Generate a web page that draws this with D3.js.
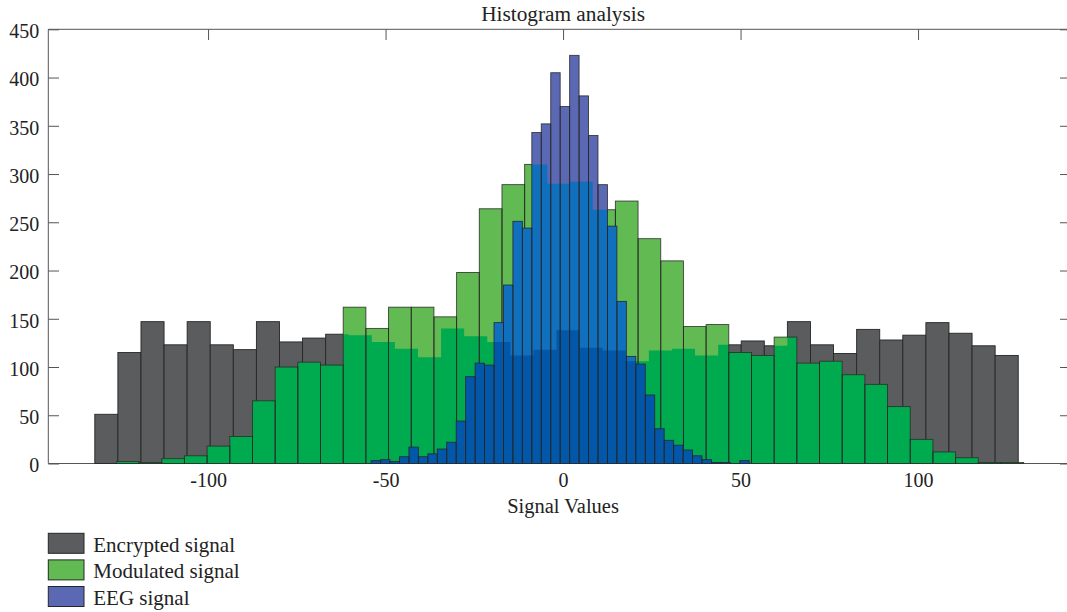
<!DOCTYPE html>
<html><head><meta charset="utf-8">
<script src="https://cdn.jsdelivr.net/npm/d3@7"></script>
<style>
body{margin:0;background:#fff}
svg{display:block}
text{font-family:"Liberation Serif","DejaVu Serif",serif;fill:#222}
</style>
</head><body>
<svg id="chart" width="1067" height="612"></svg>
<script>
// ---------------- data ----------------
const titleText = "Histogram analysis";
const xLabelText = "Signal Values";
const seriesNames = ["Encrypted signal", "Modulated signal", "EEG signal"];

const encryptedBinStart = -131.9;
const encryptedBinWidth = 6.503;
const encryptedCounts = [51,115,147,123,147,123,118,147,126,130,134,133,126,119,110,140,132,126,112,118,
                         138,120,117,106,117,119,112,123,127,122,147,123,114,139,128,133,146,135,122,112];

const modulatedBinStart = -125.82;
const modulatedBinWidth = 6.389;
const modulatedCounts = [2,1,5,8,18,28,65,100,105,102,162,140,162,162,152,198,264,289,310,290,
                         292,263,272,233,210,142,144,115,112,131,104,106,92,82,59,25,12,6,1,1];

const eegBinStart = -54.07;
const eegBinWidth = 2.663;
const eegCounts = [3,4,2,7,17,7,10,15,22,44,90,104,102,146,185,251,244,343,352,405,
                   370,423,381,340,289,246,168,111,103,71,36,24,19,14,8,4,1,1,0,3];

const xTicks = [-100, -50, 0, 50, 100];
const yTicks = [0, 50, 100, 150, 200, 250, 300, 350, 400, 450];
const xDomain = [-145, 142.8];
const yDomain = [0, 450];

// ---------------- styles ----------------
const C = {
  gray: "#5a5c5e",
  greenLight: "#62bb52",
  greenDark: "#00aa4f",
  bluePurple: "#5b68b3",
  blueBright: "#1070be",
  blueDark: "#0357a8",
  edge: "#262626",
  axis: "#555"
};

const svg = d3.select("#chart");
const L = 48.3, R = 1070, T = 29.3, B = 463.5;
const x = d3.scaleLinear().domain(xDomain).range([L, R]);
const y = d3.scaleLinear().domain(yDomain).range([B, T]);
const fs = 20;
const fmt = d => String(d);

function toBins(start, width, counts) {
  return counts.map((c, i) => ({x0: start + i * width, x1: start + (i + 1) * width, c}));
}
const grayBins = toBins(encryptedBinStart, encryptedBinWidth, encryptedCounts);
const greenBins = toBins(modulatedBinStart, modulatedBinWidth, modulatedCounts);
const blueBins = toBins(eegBinStart, eegBinWidth, eegCounts);

function rects(sel, bins) {
  return sel.selectAll("rect.b").data(bins).join("rect").attr("class", "b")
    .attr("x", d => x(d.x0)).attr("y", d => y(d.c))
    .attr("width", d => x(d.x1) - x(d.x0)).attr("height", d => y(0) - y(d.c));
}

const defs = svg.append("defs");
rects(defs.append("clipPath").attr("id", "clipGray"), grayBins);
rects(defs.append("clipPath").attr("id", "clipGreen"), greenBins);

// ---------------- axes (under bars) ----------------
const gAxes = svg.append("g");
const ax = (g) => {
  g.selectAll(".domain").remove();
  g.selectAll(".tick line").attr("stroke", C.axis);
  g.selectAll("text").attr("font-size", fs).attr("font-family", '"Liberation Serif",serif').attr("fill", "#222");
};
gAxes.append("g").attr("transform", `translate(${L},0)`)
  .call(d3.axisLeft(y).tickValues(yTicks).tickFormat(fmt).tickSizeInner(-10.7).tickSizeOuter(0).tickPadding(9))
  .call(ax).selectAll("text").attr("dy", "0.42em");
gAxes.append("g").attr("transform", `translate(${R},0)`)
  .call(d3.axisRight(y).tickValues(yTicks).tickSizeInner(-10).tickSizeOuter(0).tickFormat(""))
  .call(ax);
gAxes.append("g").attr("transform", `translate(0,${T})`)
  .call(d3.axisTop(x).tickValues(xTicks).tickSizeInner(-10.7).tickSizeOuter(0).tickFormat(""))
  .call(ax);
gAxes.append("g").attr("transform", `translate(0,${B})`)
  .call(d3.axisBottom(x).tickValues(xTicks).tickFormat(fmt).tickSizeInner(-10.7).tickSizeOuter(0).tickPadding(9.5))
  .call(ax);
// box
gAxes.append("path")
  .attr("d", `M${L},${B}V${T}H${R}V${B}Z`)
  .attr("fill", "none").attr("stroke", C.axis).attr("stroke-width", 1);

// ---------------- bars ----------------
const gBars = svg.append("g");
// encrypted
rects(gBars.append("g"), grayBins).attr("fill", C.gray).attr("stroke", C.edge).attr("stroke-width", 0.9);
// modulated
rects(gBars.append("g"), greenBins).attr("fill", C.greenLight);
rects(gBars.append("g").attr("clip-path", "url(#clipGray)"), greenBins).attr("fill", C.greenDark);
rects(gBars.append("g"), greenBins).attr("fill", "none").attr("stroke", C.edge).attr("stroke-width", 0.9).attr("stroke-opacity", 0.85);
// eeg
rects(gBars.append("g"), blueBins).attr("fill", C.bluePurple);
rects(gBars.append("g").attr("clip-path", "url(#clipGreen)"), blueBins).attr("fill", C.blueBright);
rects(gBars.append("g").attr("clip-path", "url(#clipGray)").append("g").attr("clip-path", "url(#clipGreen)"), blueBins).attr("fill", C.blueDark);
rects(gBars.append("g"), blueBins).attr("fill", "none").attr("stroke", C.edge).attr("stroke-width", 0.9).attr("stroke-opacity", 0.85);

// ---------------- texts ----------------
svg.append("text").attr("x", x(0)).attr("y", 21).attr("text-anchor", "middle")
  .attr("font-size", 21.3).text(titleText);
svg.append("text").attr("x", x(0)).attr("y", 513).attr("text-anchor", "middle")
  .attr("font-size", 20.5).text(xLabelText);

// ---------------- legend ----------------
const legendFill = [C.gray, C.greenLight, C.bluePurple];
const lg = svg.append("g");
seriesNames.forEach((name, i) => {
  const y0 = 533.3 + i * 26.6;
  lg.append("rect").attr("x", 48.3).attr("y", y0).attr("width", 35.7).attr("height", 20)
    .attr("fill", legendFill[i]).attr("stroke", C.edge).attr("stroke-width", 1);
  lg.append("text").attr("x", 93.3).attr("y", y0 + 18.4).attr("font-size", 21).text(name);
});
</script>
</body></html>
